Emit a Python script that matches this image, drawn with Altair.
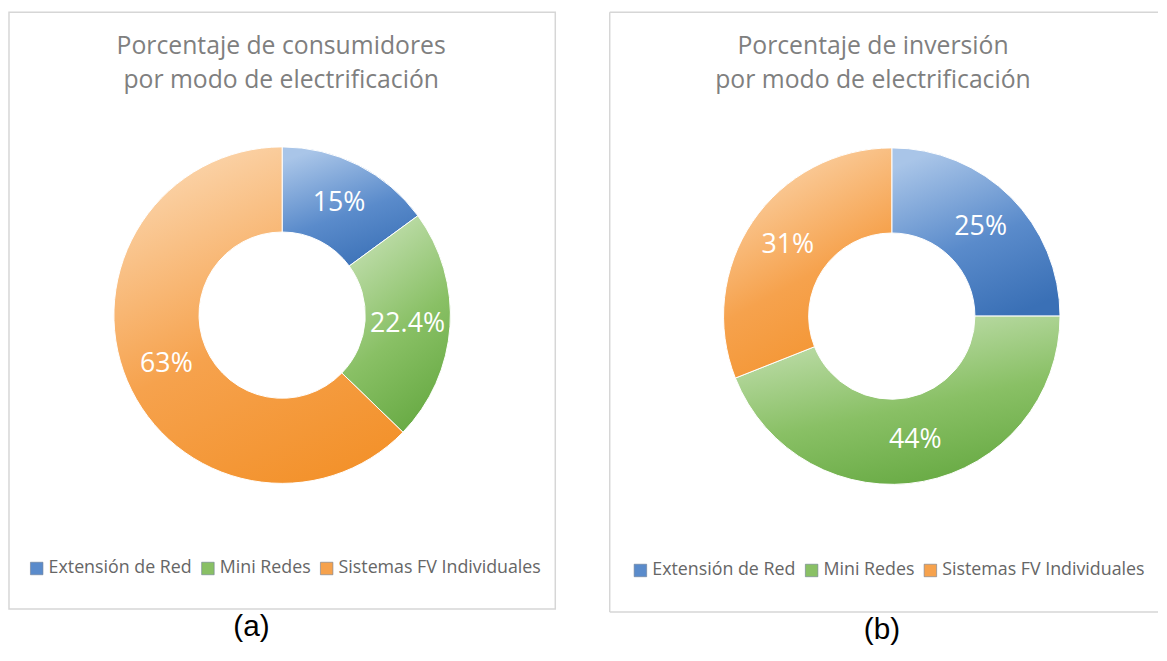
import math
import altair as alt
import pandas as pd

# ---- data ----
categories = ["Extensión de Red", "Mini Redes", "Sistemas FV Individuales"]
consumidores = [15, 22.4, 63]
inversion = [25, 44, 31]
labels_a = ["15%", "22.4%", "63%"]
labels_b = ["25%", "44%", "31%"]
title_a = ["Porcentaje de consumidores", "por modo de electrificación"]
title_b = ["Porcentaje de inversión", "por modo de electrificación"]
tags = ["(a)", "(b)"]

# ---- styling ----
base_colors = ["#5A8BCB", "#89C065", "#F6A24D"]
light_colors = ["#A9C5E8", "#C6E1B4", "#FBD5AC"]
dark_colors = ["#3A70B6", "#66A942", "#F3922C"]
FONT = "Open Sans"
R_OUT, R_IN, R_LBL = 170, 84, 127


def panel(values, labels, title_lines, tag, W, H, cx, cy, tx, lx, ly, tag_dx, closed):
    df = pd.DataFrame({"cat": categories, "value": values, "label": labels,
                       "order": list(range(len(categories)))})
    total = float(sum(values))
    tscale = alt.Scale(domain=[0, total], range=[0, 2 * math.pi])
    base = (alt.Chart(df)
            .transform_window(end="sum(value)", sort=[alt.SortField("order")])
            .transform_calculate(start="datum.end - datum.value",
                                 mid="datum.end - datum.value / 2"))

    arcs = base.mark_arc(radius=R_OUT, radius2=R_IN, stroke="white", strokeWidth=1).encode(
        theta=alt.Theta("start:Q", scale=tscale),
        theta2="end:Q",
        color=alt.Color("cat:N", scale=alt.Scale(domain=categories, range=base_colors),
                        legend=alt.Legend(title=None, orient="none", legendX=lx, legendY=ly,
                                          direction="horizontal", symbolType="square",
                                          symbolSize=160, symbolStrokeColor="#6f7f95",
                                          symbolStrokeWidth=0.6,
                                          labelFont=FONT, labelFontSize=18,
                                          labelColor="#666666", columnPadding=7,
                                          symbolOffset=0, labelOffset=3,
                                          labelLimit=400)),
        x=alt.value(cx), y=alt.value(cy),
    )
    layers = [arcs]
    for i, c in enumerate(categories):
        grad = alt.LinearGradient(
            gradient="linear", x1=0.3, y1=0, x2=0.7, y2=1,
            stops=[alt.GradientStop(offset=0, color=light_colors[i]),
                   alt.GradientStop(offset=0.55, color=base_colors[i]),
                   alt.GradientStop(offset=1, color=dark_colors[i])])
        layers.append(
            base.transform_filter(alt.datum.cat == c)
            .mark_arc(radius=R_OUT, radius2=R_IN, stroke="white", strokeWidth=1, fill=grad)
            .encode(theta=alt.Theta("start:Q", scale=tscale), theta2="end:Q",
                    x=alt.value(cx), y=alt.value(cy))
        )
    texts = base.mark_text(radius=R_LBL, font=FONT, fontSize=27, color="white").encode(
        theta=alt.Theta("mid:Q", scale=tscale),
        text="label:N",
        x=alt.value(cx), y=alt.value(cy),
    )
    layers.append(texts)

    for k, line in enumerate(title_lines):
        layers.append(
            alt.Chart(pd.DataFrame({"t": [line]})).mark_text(
                font=FONT, fontSize=25, color="#7f7f7f", align="center", baseline="middle"
            ).encode(text="t:N", x=alt.value(tx), y=alt.value(34 + 35 * k))
        )

    border = "#d6d6d6"
    if closed:
        layers.insert(0, alt.Chart(pd.DataFrame({"a": [0]})).mark_rect(
            fill="white", stroke=border, strokeWidth=1.5).encode(
            x=alt.value(0), x2=alt.value(W), y=alt.value(0), y2=alt.value(H)))
    else:
        ln = pd.DataFrame({"a": [0]})
        layers.insert(0, alt.Chart(ln).mark_rule(color=border, strokeWidth=1.5).encode(
            x=alt.value(0), x2=alt.value(W), y=alt.value(0)))
        layers.insert(0, alt.Chart(ln).mark_rule(color=border, strokeWidth=1.5).encode(
            x=alt.value(0), x2=alt.value(W), y=alt.value(H)))
        layers.insert(0, alt.Chart(ln).mark_rule(color=border, strokeWidth=1.5).encode(
            x=alt.value(0), y=alt.value(0), y2=alt.value(H)))

    return alt.layer(*layers).properties(
        width=W, height=H,
        title=alt.TitleParams(text=tag, orient="bottom", anchor="middle", offset=2,
                              dx=tag_dx, font="Liberation Sans", fontSize=30,
                              fontWeight="normal", color="black"),
    ).resolve_scale(theta="shared")


pa = panel(consumidores, labels_a, title_a, tags[0], 552, 603, 276, 306, 275, 19, 553, -31, True)
pb = panel(inversion, labels_b, title_b, tags[1], 554, 606, 285, 307, 266, 22, 555, -2, False)

chart = (alt.hconcat(pa, pb, spacing=53)
         .resolve_scale(color="independent", theta="independent")
         .resolve_legend(color="independent")
         .properties(padding=0)
         .configure_view(stroke=None))

chart.save("out.html", embed_options={"renderer": "svg", "actions": False})
